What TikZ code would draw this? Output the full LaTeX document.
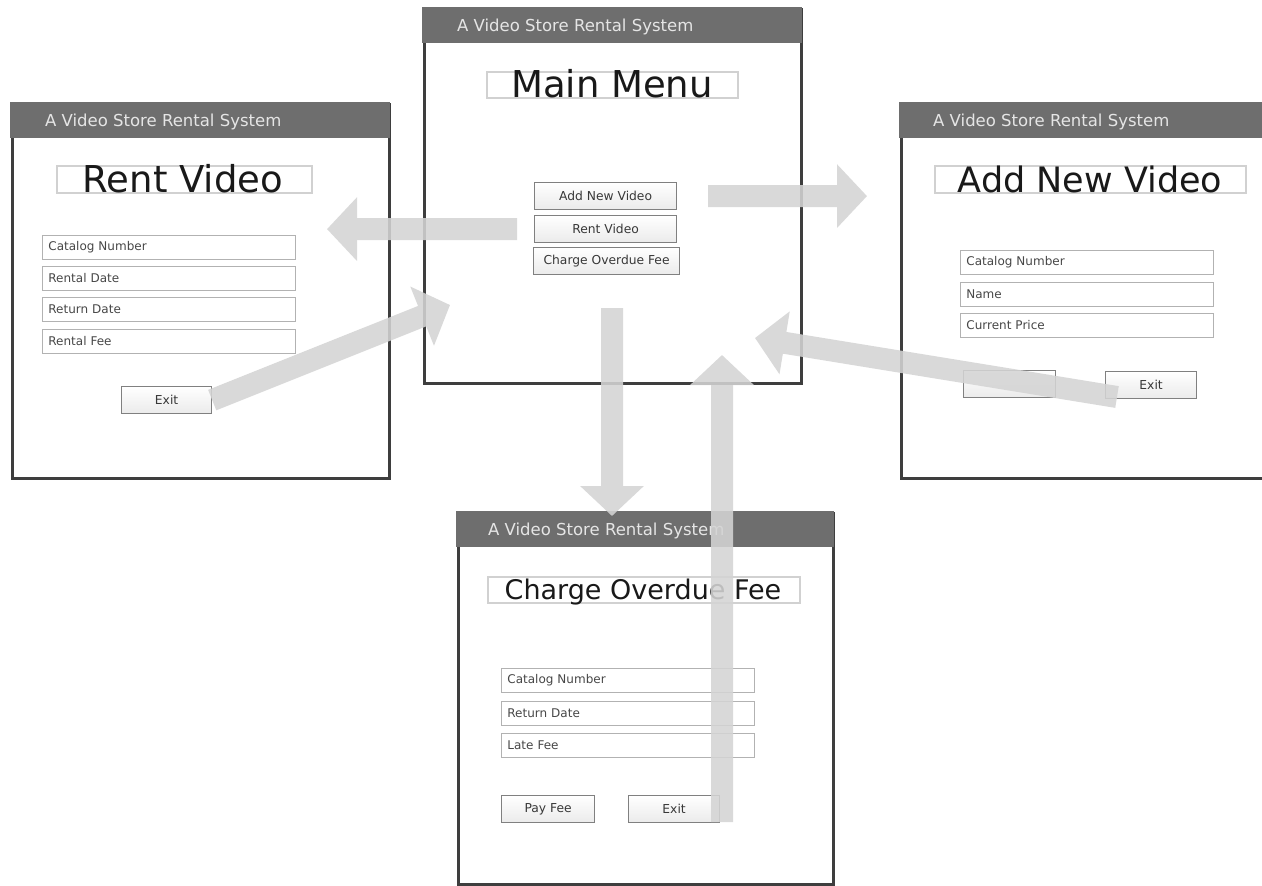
\documentclass[tikz,border=0pt]{standalone}
\usepackage{fontspec}
\setmainfont{DejaVu Sans}
\usetikzlibrary{arrows.meta,positioning}
\definecolor{barcol}{RGB}{110,110,110}
\definecolor{wincol}{RGB}{62,62,62}
\definecolor{arrowcol}{RGB}{212,212,212}
\tikzset{
  window/.style={
    draw=wincol,
    line width=3pt,
    fill=white,
    anchor=north west,
    inner sep=0pt,
    minimum width=377pt,
    minimum height=374pt
  },
  titlebar/.style={
    fill=barcol,
    anchor=north west,
    inner sep=0pt,
    minimum width=380pt,
    minimum height=36pt
  },
  bartext/.style={
    anchor=west,
    inner sep=0pt,
    text=white!90!black,
    font=\fontsize{16.5}{16.5}\selectfont
  },
  headbox/.style={
    draw=black!18,
    line width=1.2pt
  },
  heading/.style={
    anchor=base,
    inner sep=0pt,
    text=black!90
  },
  field/.style={
    draw=black!30,
    line width=0.8pt,
    anchor=north west,
    minimum height=24pt,
    text width=241pt,
    inner xsep=6pt,
    align=left,
    text=black!72,
    font=\fontsize{12}{13}\selectfont
  },
  button/.style={
    draw=black!50,
    line width=1.2pt,
    top color=white,
    bottom color=black!8,
    anchor=north west,
    minimum height=27pt,
    inner sep=0pt,
    text=black!78,
    font=\fontsize{12.3}{13}\selectfont
  },
  flow/.style={
    draw=arrowcol,
    line width=22pt,
    -{Triangle[length=30pt, width=62pt]}
  }
}

\begin{document}
\begin{tikzpicture}[x=1pt, y=-1pt]
        \useasboundingbox (0,0) rectangle (1262,886);
        \clip (0,0) rectangle (1262,886);
        \fill[white] (0,0) rectangle (1262,886);

        % main menu
        \node[window] (mainwin) at (423,8) {};
        \node[titlebar] (mainbar) at (421.5,6.5) {};
        \node[bartext] (maintitle) at (457,27) {A Video Store Rental System};
        \draw[headbox] (487,72) rectangle (738,98);
        \node[heading, font=\fontsize{37}{37}\selectfont] (mainhead) at (612,97) {Main Menu};
        \node[button, minimum width=142pt] (addbtn) at (534,182) {Add New Video};
        \node[button, minimum width=142pt] (rentbtn) at (534,215) {Rent Video};
        \node[button, minimum width=146pt] (chargebtn) at (533,247) {Charge Overdue Fee};

        % rent video
        \node[window] (rentwin) at (11,103) {};
        \node[titlebar] (rentbar) at (9.5,101.5) {};
        \node[bartext] (renttitle) at (45,122) {A Video Store Rental System};
        \draw[headbox] (57,166) rectangle (312,193);
        \node[heading, font=\fontsize{37}{37}\selectfont] (renthead) at (183,192) {Rent Video};
        \node[field] (rcat) at (42,235) {Catalog Number};
        \node[field] (rdate) at (42,266) {Rental Date};
        \node[field] (rret) at (42,297) {Return Date};
        \node[field] (rfee) at (42,329) {Rental Fee};
        \node[button, minimum width=90pt] (rentexit) at (121,386) {Exit};

        % add new video
        \node[window, minimum width=390pt] (addwin) at (900,103) {};
        \node[titlebar, minimum width=395pt] (addbar) at (898.5,101.5) {};
        \node[bartext] (addtitle) at (933,122) {A Video Store Rental System};
        \draw[headbox] (935,166) rectangle (1246,193);
        \node[heading, font=\fontsize{35}{35}\selectfont] (addhead) at (1090,192) {Add New Video};
        \node[field] (acat) at (960,250) {Catalog Number};
        \node[field] (aname) at (960,282) {Name};
        \node[field] (aprice) at (960,313) {Current Price};
        \node[button, minimum width=92pt] (addsave) at (963,370) {};
        \node[button, minimum width=91pt] (addexit) at (1105,371) {Exit};

        % charge overdue fee
        \node[window, minimum width=375pt, minimum height=371pt] (chargewin) at (457,512) {};
        \node[titlebar, minimum width=378pt] (chargebar) at (455.5,510.5) {};
        \node[bartext] (chargetitle) at (488,531) {A Video Store Rental System};
        \draw[headbox] (488,577) rectangle (800,603);
        \node[heading, font=\fontsize{27}{27}\selectfont] (chargehead) at (643,599) {Charge Overdue Fee};
        \node[field] (ccat) at (501,668) {Catalog Number};
        \node[field] (cret) at (501,701) {Return Date};
        \node[field] (clate) at (501,733) {Late Fee};
        \node[button, minimum width=93pt] (payfee) at (501,795) {Pay Fee};
        \node[button, minimum width=91pt] (chargeexit) at (628,795) {Exit};

        % navigation arrows
        \coordinate (toRent) at (327,228);
        \coordinate (toAdd) at (867,195);
        \coordinate (fromMain) at (612,308);
        \coordinate (toCharge) at (612,516);
        \coordinate (backRent) at (450,305);
        \coordinate (fromCharge) at (722,822);
        \coordinate (backCharge) at (722,355);
        \coordinate (fromAdd) at (1117,397);
        \coordinate (backAdd) at (755,338);

        \begin{scope}[transparency group, opacity=0.88]
        \draw[flow] ([xshift=-17pt]rentbtn.west) -- (rentbtn.west -| toRent);
        \draw[flow] ([xshift=31pt]addbtn.east) -- (addbtn.east -| toAdd);
        \draw[flow] (fromMain) -- (toCharge);
        \draw[flow] (rentexit.east) -- (backRent);
        \draw[flow] (fromCharge) -- (backCharge);
        \draw[flow] (fromAdd) -- (backAdd);
        \end{scope}
\end{tikzpicture}
\end{document}
